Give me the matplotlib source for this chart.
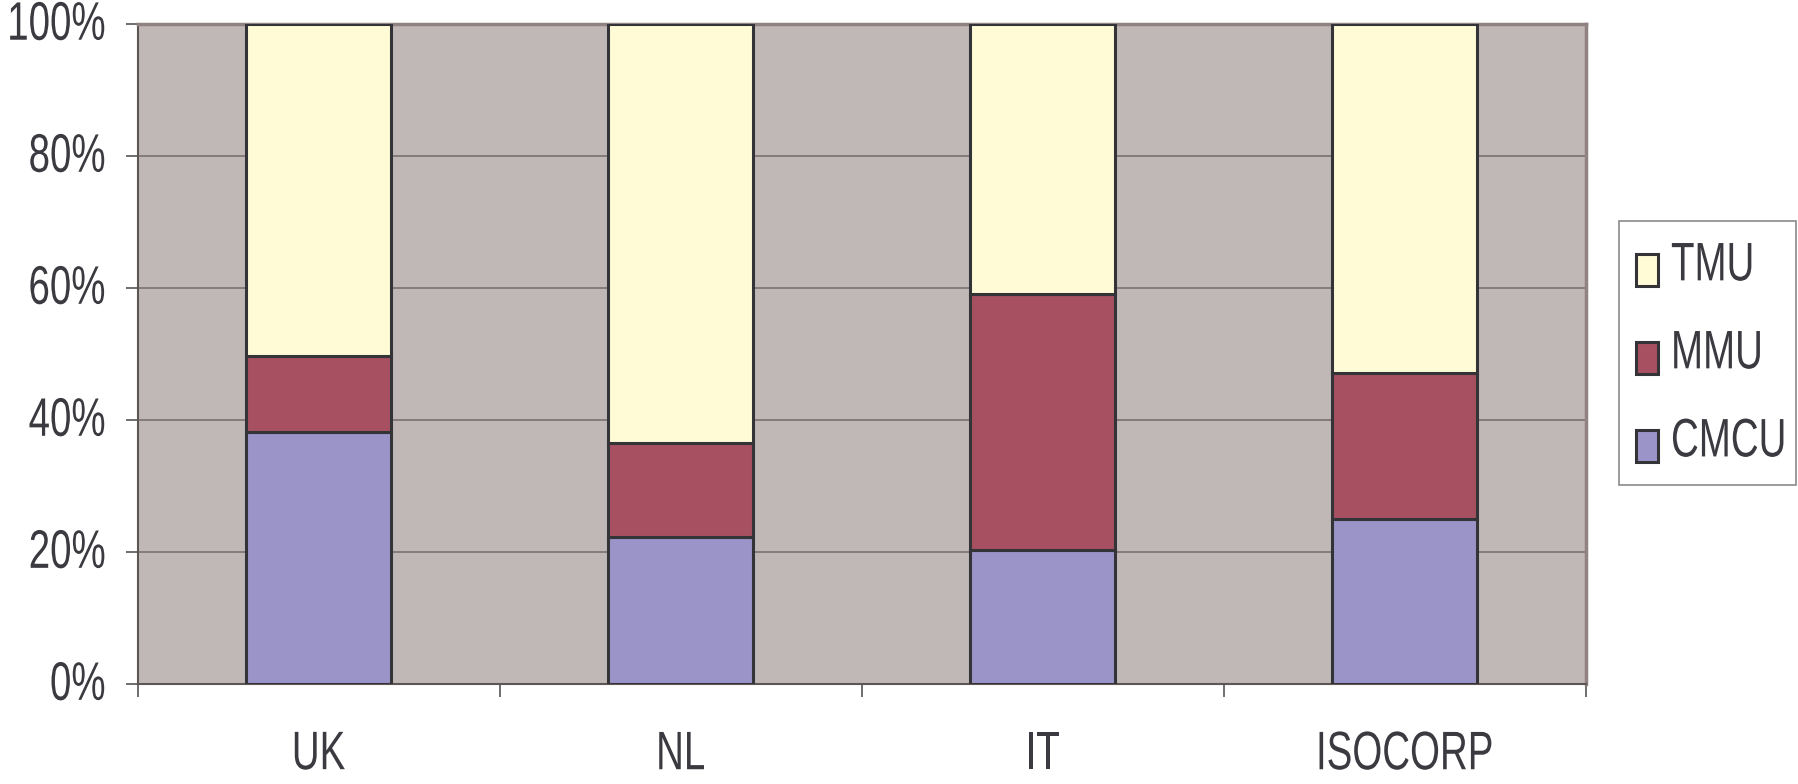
import matplotlib.pyplot as plt
from matplotlib.ticker import PercentFormatter
from matplotlib.patheffects import AbstractPathEffect
from matplotlib.transforms import Affine2D
from matplotlib.patches import Rectangle
import numpy as np

# data (shares of 1.0)
categories = ['UK', 'NL', 'IT', 'ISOCORP']
cmcu = [0.382, 0.224, 0.203, 0.250]
mmu = [0.115, 0.141, 0.389, 0.222]
tmu = [1 - c - m for c, m in zip(cmcu, mmu)]
series = ['TMU', 'MMU', 'CMCU']

plt.rcParams['font.family'] = ['Liberation Sans', 'DejaVu Sans']

txt = '#3a3a40'
edge = '#333338'
col = {'TMU': '#fffbd6', 'MMU': '#a65061', 'CMCU': '#9b94c8'}


class Tall(AbstractPathEffect):
    # stretch glyphs vertically around their middle -> condensed look
    def __init__(self, sy=1.41):
        super().__init__()
        self.sy = sy

    def draw_path(self, renderer, gc, tpath, affine, rgbFace=None):
        ys = tpath.vertices[:, 1]
        ys = ys[np.isfinite(ys)]
        y0 = (ys.min() + ys.max()) / 2
        t = Affine2D().translate(0, -y0).scale(1, self.sy).translate(0, y0) + affine
        renderer.draw_path(gc, tpath, t, rgbFace)


fs = 27.7
fig = plt.figure(figsize=(17.98, 7.84), dpi=100)
ax = fig.add_axes([0.0765, 0.127, 0.8055, 0.842])
ax.set_facecolor('#c0b8b6')

x = np.arange(len(categories))
w = 0.40
kw = dict(edgecolor=edge, linewidth=2.2, zorder=3)
ax.bar(x, cmcu, w, color=col['CMCU'], **kw)
ax.bar(x, mmu, w, bottom=cmcu, color=col['MMU'], **kw)
ax.bar(x, tmu, w, bottom=np.add(cmcu, mmu), color=col['TMU'], **kw)

ax.set_xlim(-0.5, len(categories) - 0.5)
ax.set_ylim(0, 1)
ax.set_yticks(np.linspace(0, 1, 6))
ax.yaxis.set_major_formatter(PercentFormatter(1.0, decimals=0))
ax.grid(axis='y', color='#756b6b', linewidth=1.1, zorder=1)

# category labels centred, ticks at category boundaries
ax.set_xticks(np.arange(-0.5, len(categories), 1.0))
ax.set_xticklabels([])
ax.set_xticks(x, minor=True)
ax.set_xticklabels(categories, minor=True)
ax.tick_params(axis='x', which='minor', length=0, pad=37, labelsize=fs, labelcolor=txt)
ax.tick_params(axis='x', which='major', length=9, width=1.2, color='#555')
ax.tick_params(axis='y', length=9, width=1.2, color='#555', labelsize=fs, labelcolor=txt, pad=14)

for t in ax.get_yticklabels():
    t.set_va('center')
    t.set_path_effects([Tall()])
for t in ax.get_xticklabels(minor=True):
    t.set_path_effects([Tall()])

for s in ['left', 'bottom']:
    ax.spines[s].set_color('#5e5555')
    ax.spines[s].set_linewidth(1.5)
for s in ['top', 'right']:
    ax.spines[s].set_color('#8f8280')
    ax.spines[s].set_linewidth(2.5)

# legend box (pixel positions converted to figure fraction)
W, H = 1798.0, 784.0
fig.patches.append(Rectangle((1619 / W, 1 - 485 / H), (1796 - 1619) / W, (485 - 221) / H,
                             transform=fig.transFigure, facecolor='white',
                             edgecolor='#8a8a8a', linewidth=1.2))
text_y = [265, 353, 441]
box_y = [270, 358, 446]
for name, yt, yb in zip(series, text_y, box_y):
    fig.patches.append(Rectangle((1636 / W, 1 - (yb + 16) / H), 22 / W, 32 / H,
                                 transform=fig.transFigure, facecolor=col[name],
                                 edgecolor=edge, linewidth=2.2))
    t = fig.text(1671 / W, 1 - yt / H, name, fontsize=fs, color=txt,
                 ha='left', va='center')
    t.set_path_effects([Tall()])

fig.savefig('out.png', dpi=100)
